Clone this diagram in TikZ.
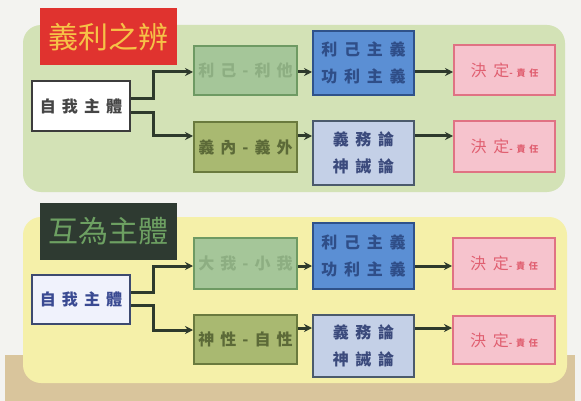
\documentclass[tikz,border=0pt]{standalone}
\usepackage{fontspec}
\setmainfont{Noto Sans CJK TC}
\newfontfamily\spacedcjk[LetterSpace=38]{Noto Sans CJK TC}
\newfontfamily\widecjk[LetterSpace=42]{Noto Sans CJK TC}
\usepackage{xcolor}
\usepackage{tikz}
\usetikzlibrary{
    positioning,
    arrows.meta
}

\definecolor{pageBg}{HTML}{F3F3F0}
\definecolor{woodTan}{HTML}{D9C59C}
\definecolor{panelGreen}{HTML}{D3E2B6}
\definecolor{panelYellow}{HTML}{F5F0A9}
\definecolor{lineDark}{HTML}{2E3A2C}
\definecolor{titleRed}{HTML}{E0332F}
\definecolor{titleGold}{HTML}{F6C247}
\definecolor{titleDark}{HTML}{2E3A31}
\definecolor{titleMoss}{HTML}{6DA062}
\definecolor{sageFill}{HTML}{A5C699}
\definecolor{sageLine}{HTML}{6E9A63}
\definecolor{sageText}{HTML}{8DAE82}
\definecolor{oliveFill}{HTML}{A9B971}
\definecolor{oliveLine}{HTML}{6A7A3E}
\definecolor{oliveText}{HTML}{5C6A38}
\definecolor{blueFill}{HTML}{5B8FD4}
\definecolor{blueLine}{HTML}{2F528A}
\definecolor{blueText}{HTML}{2F4E88}
\definecolor{paleBlueFill}{HTML}{C4D0E7}
\definecolor{paleBlueLine}{HTML}{4B5A6C}
\definecolor{paleBlueText}{HTML}{3B4A7C}
\definecolor{pinkFill}{HTML}{F6C3CD}
\definecolor{pinkLine}{HTML}{E07283}
\definecolor{pinkText}{HTML}{E05F70}
\definecolor{selfLine}{HTML}{3C3C3C}
\definecolor{selfText}{HTML}{454545}
\definecolor{selfBlueFill}{HTML}{F0F2FC}
\definecolor{selfBlueLine}{HTML}{3D4A70}
\definecolor{selfBlueText}{HTML}{3A4A92}

\begin{document}
\begin{tikzpicture}[
  x=1pt, y=-1pt,
  font=\spacedcjk\bfseries\fontsize{16}{18}\selectfont,
  >=Stealth,
  arrow/.style={-{Stealth[length=8pt,width=8pt]}, line width=3pt, draw=lineDark},
  panel/.style={rounded corners=18pt, draw=none},
  box/.style={rectangle, line width=2pt, align=center, inner sep=1pt},
  titlebox/.style={rectangle, draw=none, inner sep=0pt,
                   minimum width=137pt, minimum height=57pt,
                   font=\fontsize{30}{32}\selectfont},
  selfbox/.style={box, minimum width=98pt, minimum height=50pt},
  pairbox/.style={box, minimum width=103pt, minimum height=50pt},
  ethicbox/.style={box, minimum width=101pt, minimum height=64pt,
                   font=\widecjk\bfseries\fontsize{16}{27}\selectfont},
  decbox/.style={box, draw=pinkLine, fill=pinkFill, text=pinkText,
                 minimum width=101pt, minimum height=50pt,
                 font=\widecjk\fontsize{16}{18}\selectfont}
]
\newcommand{\decisiontext}{決定{\bfseries\fontsize{9}{10}\selectfont -責任}}

% Page and panels
\useasboundingbox (0,0) rectangle (581,401);
\fill[pageBg] (0,0) rectangle (581,401);
\fill[woodTan] (5,355) rectangle (575,401);
\fill[panelGreen, panel] (23,25) rectangle (565,192);
\fill[panelYellow, panel] (23,217) rectangle (567,383);

% Rows of reference levels for the arrows
\coordinate (rowA) at (0,72);
\coordinate (rowB) at (0,136);
\coordinate (rowC) at (0,266);
\coordinate (rowD) at (0,328);

% Upper panel
\node[titlebox, fill=titleRed, text=titleGold] (title1) at (108.5,37) {義利之辨};
\node[selfbox, draw=selfLine, fill=white, text=selfText] (self1) at (81,106) {自我主體};
\node[pairbox, draw=sageLine, fill=sageFill, text=sageText, minimum height=49pt] (pair1a) at (245.5,70.5) {利己-利他};
\node[pairbox, draw=oliveLine, fill=oliveFill, text=oliveText] (pair1b) at (245.5,147) {義內-義外};
\node[ethicbox, draw=blueLine, fill=blueFill, text=blueText] (ethic1a) at (363.5,63) {利己主義\\功利主義};
\node[ethicbox, draw=paleBlueLine, fill=paleBlueFill, text=paleBlueText] (ethic1b) at (363.5,153) {義務論\\神誡論};
\node[decbox] (dec1a) at (504.5,70) {\decisiontext};
\node[decbox, minimum height=51pt] (dec1b) at (504.5,146.5) {\decisiontext};

% Lower panel
\node[titlebox, fill=titleDark, text=titleMoss] (title2) at (108.5,231.5) {互為主體};
\node[selfbox, draw=selfBlueLine, fill=selfBlueFill, text=selfBlueText, minimum height=49pt] (self2) at (81,299.5) {自我主體};
\node[pairbox, draw=sageLine, fill=sageFill, text=sageText, minimum height=51pt] (pair2a) at (245.5,263.5) {大我-小我};
\node[pairbox, draw=oliveLine, fill=oliveFill, text=oliveText, minimum height=49pt] (pair2b) at (245.5,339.5) {神性-自性};
\node[ethicbox, draw=blueLine, fill=blueFill, text=blueText, minimum height=66pt] (ethic2a) at (363.5,256) {利己主義\\功利主義};
\node[ethicbox, draw=paleBlueLine, fill=paleBlueFill, text=paleBlueText, minimum height=62pt] (ethic2b) at (363.5,346) {義務論\\神誡論};
\node[decbox, minimum width=102pt, minimum height=51pt] (dec2a) at (504,263.5) {\decisiontext};
\node[decbox, minimum width=102pt, minimum height=48pt] (dec2b) at (504,340) {\decisiontext};

% Upper connectors
\draw[arrow] ([yshift=7pt]self1.east) -- ++(22,0) |- (pair1a.west |- rowA);
\draw[arrow] ([yshift=-7pt]self1.east) -- ++(22,0) |- (pair1b.west |- rowB);
\draw[arrow] (pair1a.east |- rowA) -- (ethic1a.west |- rowA);
\draw[arrow] (pair1b.east |- rowB) -- (ethic1b.west |- rowB);
\draw[arrow] (ethic1a.east |- rowA) -- (dec1a.west |- rowA);
\draw[arrow] (ethic1b.east |- rowB) -- (dec1b.west |- rowB);

% Lower connectors
\draw[arrow] ([yshift=7pt]self2.east) -- ++(22,0) |- (pair2a.west |- rowC);
\draw[arrow] ([yshift=-6pt]self2.east) -- ++(22,0) |- (pair2b.west |- 0,330);
\draw[arrow] (pair2a.east |- rowC) -- (ethic2a.west |- rowC);
\draw[arrow] (pair2b.east |- rowD) -- (ethic2b.west |- rowD);
\draw[arrow] (ethic2a.east |- rowC) -- (dec2a.west |- rowC);
\draw[arrow] (ethic2b.east |- rowD) -- (dec2b.west |- rowD);

\end{tikzpicture}
\end{document}
